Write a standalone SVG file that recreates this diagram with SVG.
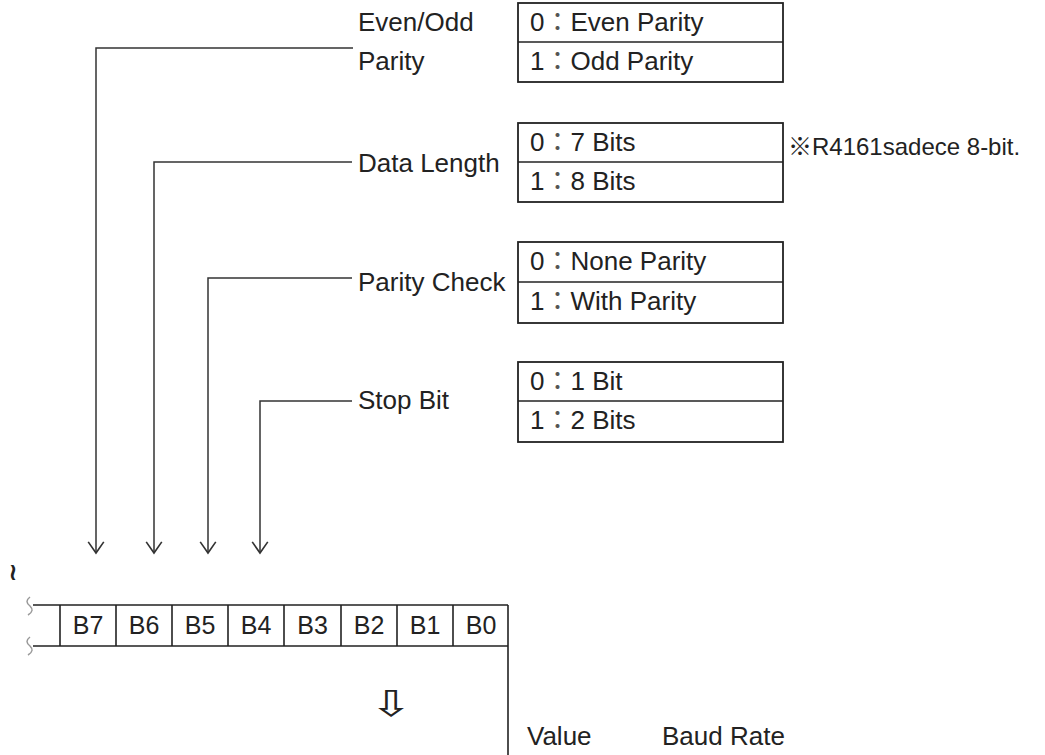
<svg xmlns="http://www.w3.org/2000/svg" width="1045" height="755" viewBox="0 0 1045 755">
<style>
.t{font-family:"Liberation Sans",Arial,"Noto Sans CJK JP",sans-serif;font-size:26px;fill:#222}
.c{fill:#555}
.b{font-size:25px}
.n{font-size:24px}
.ln{stroke:#222;stroke-width:1.6;fill:none}
.box{stroke:#222;stroke-width:1.8;fill:#fff}
.conn{stroke:#333;stroke-width:1.5;fill:none}
.brk{stroke:#999;stroke-width:1.5;fill:none}
.sym{font-family:"DejaVu Sans",sans-serif;fill:#222}
</style>
<defs>
<marker id="ah" markerUnits="userSpaceOnUse" markerWidth="20" markerHeight="20" viewBox="-12 -9 14 18" refX="0" refY="0" orient="auto" overflow="visible">
<path d="M-10,-7 L0,0 L-10,7" fill="none" stroke="#333" stroke-width="1.5"/>
</marker>
</defs>
<rect width="1045" height="755" fill="#fff"/>
<g id="connectors">
<path class="conn" d="M353,48 H96 V553" marker-end="url(#ah)"/>
<path class="conn" d="M352,162 H154 V553" marker-end="url(#ah)"/>
<path class="conn" d="M352,278 H208 V553" marker-end="url(#ah)"/>
<path class="conn" d="M352,401 H260 V553" marker-end="url(#ah)"/>
</g>
<g id="label-evenodd"><text class="t" x="358" y="31">Even/Odd</text><text class="t" x="358" y="70">Parity</text></g>
<g id="label-datalength"><text class="t" x="358" y="172">Data Length</text></g>
<g id="label-paritycheck"><text class="t" x="358" y="291">Parity Check</text></g>
<g id="label-stopbit"><text class="t" x="358" y="409">Stop Bit</text></g>
<g id="box-evenodd">
<rect class="box" x="518" y="3" width="265" height="79"/>
<line class="ln" x1="518" y1="42" x2="783" y2="42"/>
<text class="t" x="530" y="31">0<tspan class="c">：</tspan>Even Parity</text>
<text class="t" x="530" y="70">1<tspan class="c">：</tspan>Odd Parity</text>
</g>
<g id="box-datalength">
<rect class="box" x="518" y="123" width="265" height="79"/>
<line class="ln" x1="518" y1="162" x2="783" y2="162"/>
<text class="t" x="530" y="151">0<tspan class="c">：</tspan>7 Bits</text>
<text class="t" x="530" y="190">1<tspan class="c">：</tspan>8 Bits</text>
</g>
<g id="note"><text class="t n" x="788" y="155">※R4161sadece 8-bit.</text></g>
<g id="box-paritycheck">
<rect class="box" x="518" y="242" width="265" height="81"/>
<line class="ln" x1="518" y1="282" x2="783" y2="282"/>
<text class="t" x="530" y="270">0<tspan class="c">：</tspan>None Parity</text>
<text class="t" x="530" y="310">1<tspan class="c">：</tspan>With Parity</text>
</g>
<g id="box-stopbit">
<rect class="box" x="518" y="362" width="265" height="80"/>
<line class="ln" x1="518" y1="401" x2="783" y2="401"/>
<text class="t" x="530" y="390">0<tspan class="c">：</tspan>1 Bit</text>
<text class="t" x="530" y="429">1<tspan class="c">：</tspan>2 Bits</text>
</g>
<g id="register">
<path class="ln" d="M33,605 H508 M33,646 H508 M508,605 V755"/>
<path class="ln" d="M60,605 V646 M116,605 V646 M172,605 V646 M228,605 V646 M284,605 V646 M341,605 V646 M397,605 V646 M453,605 V646"/>
<path class="brk" d="M30,597 c-4,3 -4,6 0,9 c3,3 3,6 -2,9"/>
<path class="brk" d="M30,637 c-4,3 -4,6 0,9 c3,3 3,6 -2,9"/>
<text class="t b" x="88" y="634" text-anchor="middle">B7</text>
<text class="t b" x="144" y="634" text-anchor="middle">B6</text>
<text class="t b" x="200" y="634" text-anchor="middle">B5</text>
<text class="t b" x="256" y="634" text-anchor="middle">B4</text>
<text class="t b" x="312.5" y="634" text-anchor="middle">B3</text>
<text class="t b" x="369" y="634" text-anchor="middle">B2</text>
<text class="t b" x="425" y="634" text-anchor="middle">B1</text>
<text class="t b" x="481" y="634" text-anchor="middle">B0</text>
</g>
<g id="mark"><text class="sym" x="13" y="580" font-size="24" font-weight="bold" text-anchor="middle">≀</text></g>
<g id="down-arrow"><text class="sym" transform="translate(391,716) scale(1.45,1)" font-size="36" text-anchor="middle" fill="#333">⇩</text></g>
<g id="table-header">
<text class="t" x="527" y="745">Value</text>
<text class="t" x="662" y="745">Baud Rate</text>
</g>
</svg>
